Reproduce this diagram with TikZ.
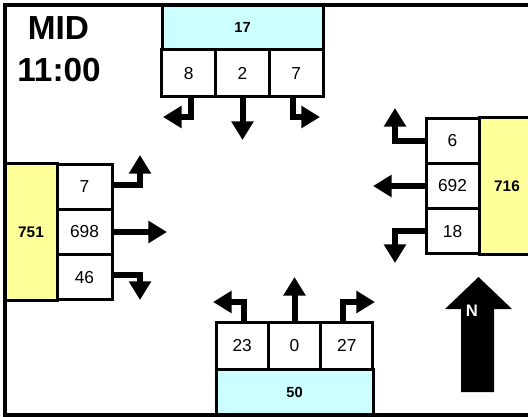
\documentclass[tikz,border=0pt]{standalone}
\usepackage{fontspec}
\setmainfont{Liberation Sans}
\usetikzlibrary{arrows.meta}
\definecolor{cyanbox}{HTML}{CCFFFF}
\definecolor{yellowbox}{HTML}{FFFF99}
\begin{document}
\begin{tikzpicture}[x=0.75pt,y=-0.75pt,
  cell/.style={draw=black,line width=2.25pt,fill=white,inner sep=0pt,font=\fontsize{13}{15}\selectfont},
  headc/.style={cell,fill=cyanbox,font=\bfseries\fontsize{11}{13}\selectfont},
  heady/.style={cell,fill=yellowbox,font=\bfseries\fontsize{11.5}{13}\selectfont},
  arr/.style={line width=4.5pt,-{Triangle[length=14pt,width=16pt]}},
  title/.style={font=\bfseries\fontsize{25}{28}\selectfont,inner sep=0pt},
  ]
\useasboundingbox (0,0) rectangle (528,417);
% top approach
\node[headc,minimum width=120.75pt,minimum height=33.75pt] (th) at (242.5,27.5) {17};
\node[cell,minimum width=40.25pt,minimum height=35.25pt] (t1) at (188.8,73.5) {8};
\node[cell,minimum width=40.25pt,minimum height=35.25pt] (t2) at (242.5,73.5) {2};
\node[cell,minimum width=40.25pt,minimum height=35.25pt] (t3) at (296.2,73.5) {7};
% left approach
\node[heady,minimum width=39pt,minimum height=102pt] (lh) at (31,232) {751};
\node[cell,minimum width=41.25pt,minimum height=34pt] (l1) at (84.5,186.7) {7};
\node[cell,minimum width=41.25pt,minimum height=34pt] (l2) at (84.5,232) {698};
\node[cell,minimum width=41.25pt,minimum height=34pt] (l3) at (84.5,277.3) {46};
% right approach
\node[heady,minimum width=42pt,minimum height=102pt] (rh) at (507,186) {716};
\node[cell,minimum width=39.75pt,minimum height=34pt] (r1) at (452.5,140.7) {6};
\node[cell,minimum width=39.75pt,minimum height=34pt] (r2) at (452.5,186) {692};
\node[cell,minimum width=39.75pt,minimum height=34pt] (r3) at (452.5,231.3) {18};
% bottom approach
\node[headc,minimum width=117.75pt,minimum height=34.5pt] (bh) at (294.5,392) {50};
\node[cell,minimum width=39.25pt,minimum height=35.25pt] (b1) at (242.2,345.5) {23};
\node[cell,minimum width=39.25pt,minimum height=35.25pt] (b2) at (294.5,345.5) {0};
\node[cell,minimum width=39.25pt,minimum height=35.25pt] (b3) at (346.8,345.5) {27};
% arrow end points
\coordinate (t1tip) at (163,117);
\coordinate (t2tip) at (242.5,140);
\coordinate (t3tip) at (320,117);
\coordinate (l1tip) at (140,155);
\coordinate (l2tip) at (167,232);
\coordinate (l3tip) at (140,300);
\coordinate (r1tip) at (395,108);
\coordinate (r2tip) at (373,186);
\coordinate (r3tip) at (395,263);
\coordinate (b1tip) at (213,302);
\coordinate (b2tip) at (294.5,277);
\coordinate (b3tip) at (375,302);
% arrows
\draw[arr] ([xshift=1.5pt]t1.south) |- (t1tip);
\draw[arr] (t2.south) -- (t2tip);
\draw[arr] ([xshift=-2.25pt]t3.south) |- (t3tip);
\draw[arr] ([yshift=1.5pt]l1.east) -| (l1tip);
\draw[arr] (l2.east) -- (l2tip);
\draw[arr] ([yshift=1.5pt]l3.east) -| (l3tip);
\draw[arr] (r1.west) -| (r1tip);
\draw[arr] (r2.west) -- (r2tip);
\draw[arr] (r3.west) -| (r3tip);
\draw[arr] ([xshift=1pt]b1.north) |- (b1tip);
\draw[arr] (b2.north) -- (b2tip);
\draw[arr] ([xshift=-2.85pt]b3.north) |- (b3tip);
% titles
\node[title] (mid) at (58.5,28) {MID};
\node[title] (time) at (59,70) {11:00};
% north arrow
\fill[black] (461,392) -- (461,309) -- (445,309) -- (478.5,277) -- (512,309) -- (494,309) -- (494,392) -- cycle;
\node[font=\bfseries\fontsize{12.5}{14}\selectfont,text=white,inner sep=0pt] (nlab) at (472,311) {N};
% frame
\draw[line width=3pt] (5,5) rectangle (535,415);
\end{tikzpicture}
\end{document}
